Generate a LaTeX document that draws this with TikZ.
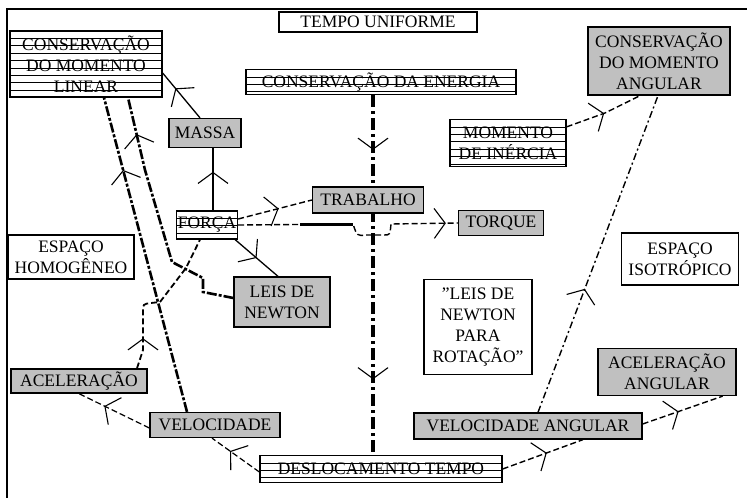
\documentclass[tikz,border=0pt]{standalone}
\usepackage{fontspec}
\setmainfont{Liberation Serif}
\usetikzlibrary{arrows.meta}
\usetikzlibrary{decorations.markings}
\usetikzlibrary{backgrounds}
\definecolor{boxgray}{RGB}{192,192,192}
\newcommand\boxfont{\fontsize{17.5}{21}\selectfont}
\tikzset{
  box/.style={draw, line width=1.3pt, inner sep=0pt, align=center, font=\boxfont},
  graybox/.style={box, fill=boxgray},
  whitebox/.style={box, fill=white},
  stripebox/.style={box, fill=white, path picture={
      \foreach \k in {1,...,12}
        \draw[line width=.8pt] ([yshift=-\k*7.4pt]path picture bounding box.north west) -- ([yshift=-\k*7.4pt]path picture bounding box.north east);}},
  midtip/.style={postaction={decorate, decoration={markings, mark=at position #1 with {\arrow{Straight Barb[length=11pt,width=30pt,line width=1.1pt]}}}}},
  solidline/.style={line width=1.3pt},
  dashline/.style={line width=1.4pt, dash pattern=on 6pt off 3pt},
  dotdashline/.style={line width=1.4pt, dash pattern=on 7pt off 3pt on 2pt off 3pt},
  heavyline/.style={line width=2.6pt, dash pattern=on 10pt off 2pt on 3pt off 2pt},
  energyline/.style={line width=4pt, dash pattern=on 12pt off 4pt on 3pt off 4pt},
}
\begin{document}
\begin{tikzpicture}[x=1pt, y=-1pt]
\useasboundingbox (0,0) rectangle (747,498);

\node[whitebox, minimum width=198pt, minimum height=20pt] (tempo) at (378,22) {TEMPO UNIFORME};
\node[stripebox, minimum width=152pt, minimum height=66pt] (linear) at (86,64) {CONSERVAÇÃO\\DO MOMENTO\\LINEAR};
\node[stripebox, minimum width=270pt, minimum height=25pt] (energia) at (381,82) {CONSERVAÇÃO DA ENERGIA};
\node[graybox, minimum width=142pt, minimum height=68pt] (angular) at (659,61) {CONSERVAÇÃO\\DO MOMENTO\\ANGULAR};
\node[graybox, minimum width=72pt, minimum height=29pt] (massa) at (205,133) {MASSA};
\node[stripebox, minimum width=116pt, minimum height=47pt] (inercia) at (508,143) {MOMENTO\\DE INÉRCIA};
\node[stripebox, minimum width=61pt, minimum height=28pt] (forca) at (207,225) {FORÇA};
\node[graybox, minimum width=111pt, minimum height=26pt] (trabalho) at (368,200) {TRABALHO};
\node[graybox, minimum width=85pt, minimum height=25pt] (torque) at (501,223) {TORQUE};
\node[whitebox, minimum width=126pt, minimum height=44pt] (homog) at (71,257) {ESPAÇO\\HOMOGÊNEO};
\node[graybox, minimum width=96pt, minimum height=50pt] (newton) at (282,302) {LEIS DE\\NEWTON};
\node[whitebox, minimum width=108pt, minimum height=95pt] (rotacao) at (478,327) {"LEIS DE\\NEWTON\\PARA\\ROTAÇÃO"};
\node[whitebox, minimum width=117pt, minimum height=52pt] (isotrop) at (680,259) {ESPAÇO\\ISOTRÓPICO};
\node[graybox, minimum width=136pt, minimum height=24pt] (acel) at (79,381) {ACELERAÇÃO};
\node[graybox, minimum width=130pt, minimum height=25pt] (veloc) at (215,425) {VELOCIDADE};
\node[stripebox, minimum width=242pt, minimum height=27pt] (desloc) at (381,469) {DESLOCAMENTO TEMPO};
\node[graybox, minimum width=228pt, minimum height=26pt] (velang) at (528,426) {VELOCIDADE ANGULAR};
\node[graybox, minimum width=138pt, minimum height=47pt] (acelang) at (667,372) {ACELERAÇÃO\\ANGULAR};

\begin{scope}[on background layer]
\draw[line width=1.3pt] (7,498) -- (7,9) -- (747,9);
\draw[energyline, midtip=.152, midtip=.79] ([xshift=-8pt]energia.south) -- ([xshift=-8pt]desloc.north);
% lado linear
\draw[solidline, midtip=.62] ([xshift=6pt]forca.north) -- ([xshift=8pt]massa.south);
\draw[solidline, midtip=.66] ([xshift=-5pt]massa.north) -- ([yshift=-9pt]linear.east);
\draw[solidline, midtip=.5] ([xshift=-3pt]forca.south east) -- ([xshift=-4pt]newton.north);
\draw[dashline, midtip=.55] ([yshift=6pt]forca.east) -- (trabalho.west);
\draw[dashline, midtip={-12pt}] (forca.east) -- (353,224) .. controls (357,236) .. (366,235) -- (384,235) .. controls (390,235) .. (391,224) -- (torque.west);
\draw[line width=3pt] (300,224) -- (353,224);
\draw[heavyline, midtip=.85] ([yshift=4pt]newton.west) -- (203,292) -- (203,278) -- (172,262) -- (145,170) -- ([xshift=42pt]linear.south);
\draw[heavyline, midtip=.77] ([xshift=-28pt]veloc.north) -- ([xshift=18pt]linear.south);
\draw[dashline, line width=1.8pt, midtip=.2] ([xshift=58pt]acel.north) -- (143,350) -- (143,312) .. controls (143,304) .. (151,303) -- (160,302) -- (186,268) -- ([xshift=-7pt]forca.south);
\draw[dashline, line width=1.2pt, midtip=.64] ([yshift=-3pt]veloc.west) -- (acel.south);
\draw[dashline, line width=1.2pt, midtip=.62] ([yshift=-3pt]desloc.west) -- ([xshift=-3pt]veloc.south);
% lado angular
\draw[dashline, midtip=.55] (desloc.east) -- ([xshift=55pt]velang.south);
\draw[dashline, midtip=.45] ([yshift=2pt]velang.east) -- ([xshift=-14pt]acelang.south east);
\draw[dotdashline, midtip=.39] ([xshift=10pt]velang.north) -- ([xshift=-1pt]angular.south);
\draw[dashline, midtip=.5] ([yshift=-8pt]inercia.north east) -- (605,113) -- ([xshift=-19pt]angular.south);
\end{scope}
\end{tikzpicture}
\end{document}
